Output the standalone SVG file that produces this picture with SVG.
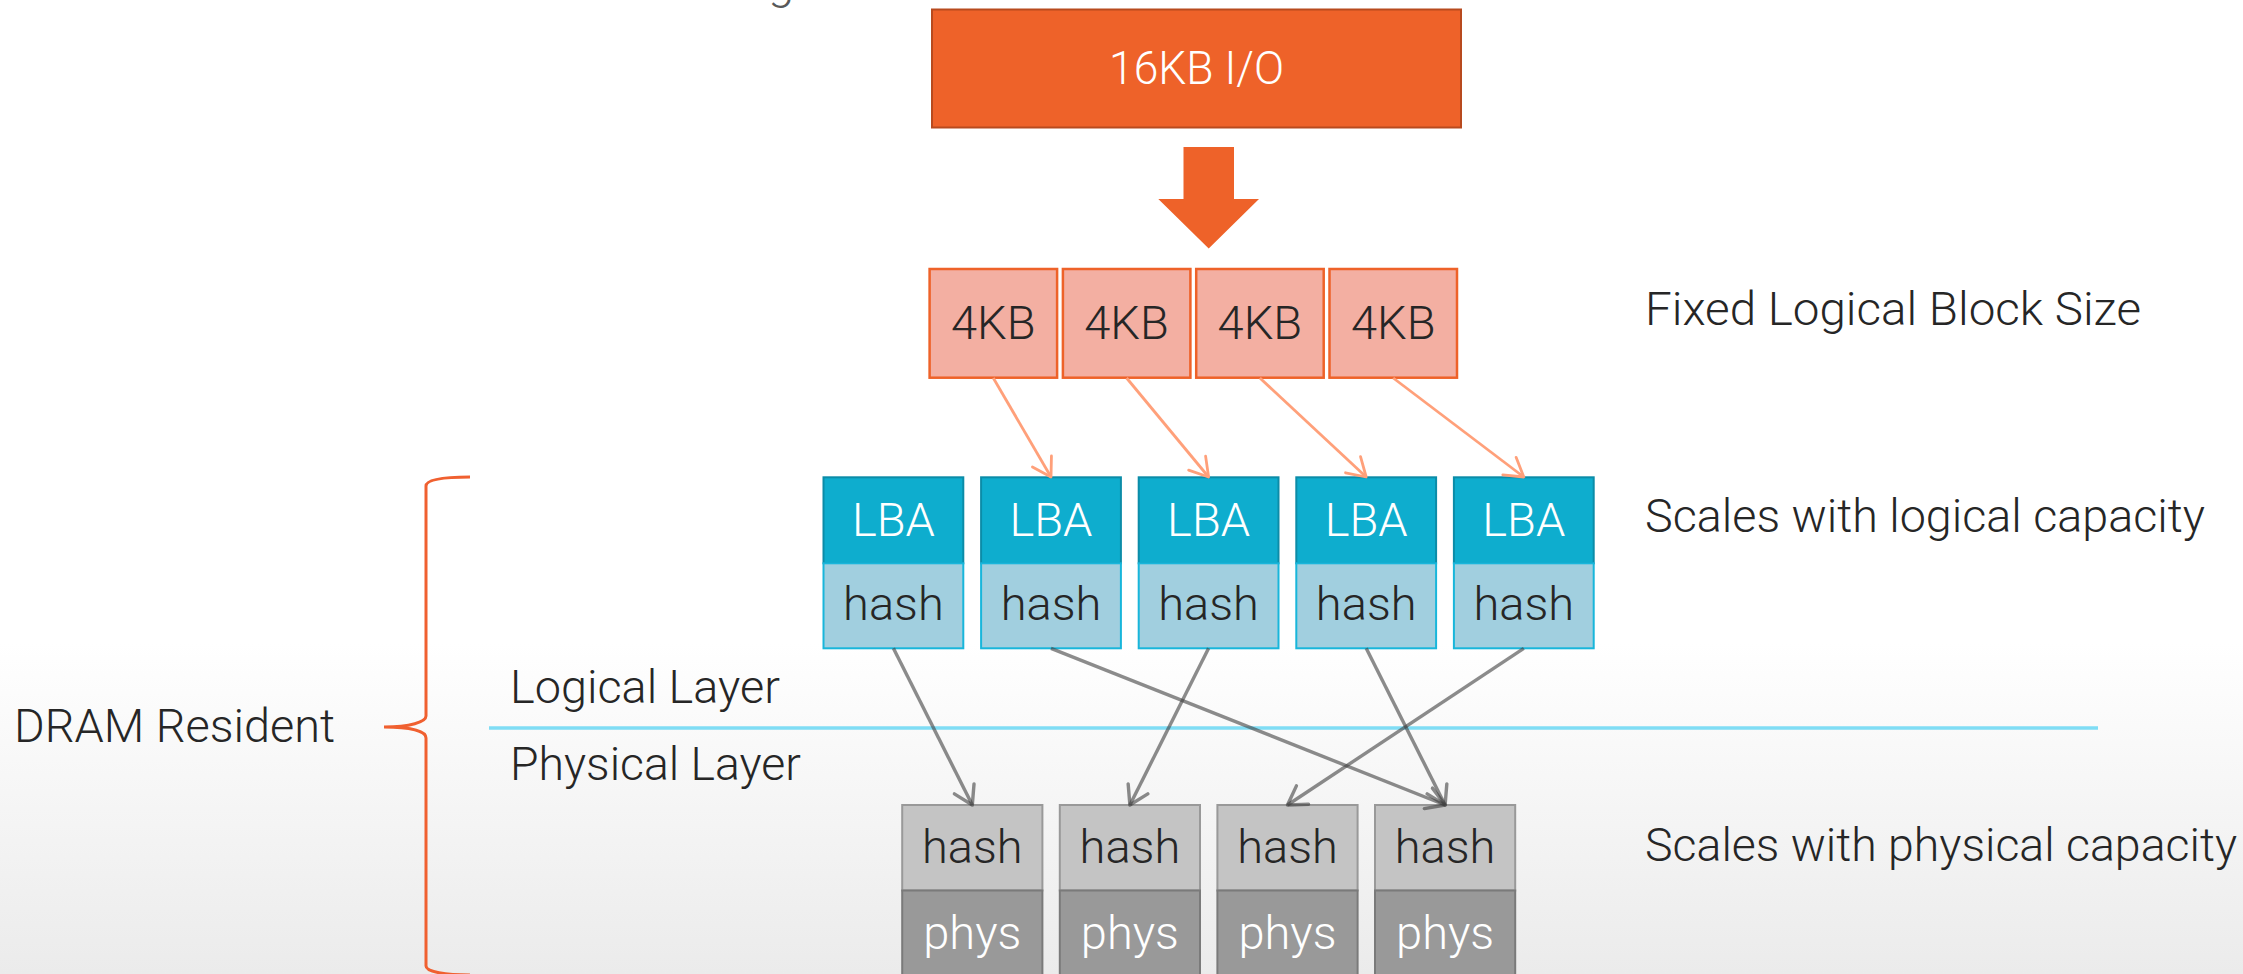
<svg xmlns="http://www.w3.org/2000/svg" width="2243" height="974" viewBox="0 0 2243 974">
  <defs>
    <linearGradient id="bg" x1="0" y1="0" x2="0" y2="974" gradientUnits="userSpaceOnUse">
      <stop offset="0" stop-color="#FFFFFF"/>
      <stop offset="0.66" stop-color="#FFFFFF"/>
      <stop offset="1" stop-color="#EBEBEB"/>
    </linearGradient>
    <marker id="headGray" markerUnits="userSpaceOnUse" viewBox="0 0 22 26" refX="20" refY="13" markerWidth="22" markerHeight="26" orient="auto">
      <path d="M2,2 L20,13 L2,24" fill="none" stroke="#404040" stroke-opacity="0.6" stroke-width="3.4" stroke-linecap="round" stroke-linejoin="round"/>
    </marker>
    <marker id="headSalmon" markerUnits="userSpaceOnUse" viewBox="0 0 22 26" refX="20" refY="13" markerWidth="22" markerHeight="26" orient="auto">
      <path d="M2,2 L20,13 L2,24" fill="none" stroke="#FFA07A" stroke-width="2.8" stroke-linecap="round" stroke-linejoin="round"/>
    </marker>
    <style>
      text { font-family: Roboto, "Open Sans", "Liberation Sans", sans-serif; font-weight: 300; font-size: 47px; }
      .dark { fill: #262626; }
      .light { fill: #FFFFFF; }
      .mid { text-anchor: middle; }
      .io { fill: #EE6229; stroke: #B84A1E; stroke-width: 2; }
      .blk { fill: #F3AFA2; stroke: #EE6229; stroke-width: 2.5; }
      .lba { fill: #0EADCE; stroke: #0B8CA8; stroke-width: 2; }
      .lhash { fill: #A1CFDF; stroke: #18B6DB; stroke-width: 2; }
      .phash { fill: #C4C4C4; stroke: #999999; stroke-width: 2; }
      .phys { fill: #999999; stroke: #7A7A7A; stroke-width: 2; }
      .map { fill: none; stroke: #404040; stroke-opacity: 0.6; stroke-width: 3.4; marker-end: url(#headGray); }
      .split { fill: none; stroke: #FFA07A; stroke-width: 2.8; marker-end: url(#headSalmon); }
    </style>
  </defs>

  <rect x="0" y="0" width="2243" height="974" fill="url(#bg)"/>

  <!-- tail of the heading line above the frame -->
  <text x="768" y="-1" font-size="62" fill="#595959">g</text>

  <!-- incoming request -->
  <g id="io16k">
    <rect class="io" x="932" y="9.5" width="529" height="118"/>
    <text class="light mid" x="1196.5" y="84" textLength="175" lengthAdjust="spacingAndGlyphs">16KB I/O</text>
  </g>
  <g id="splitArrow">
    <polygon points="1183.5,147 1234,147 1234,199 1259,199 1208.7,248.5 1158.3,199 1183.5,199" fill="#EE6229"/>
  </g>

  <!-- fixed-size logical blocks -->
  <g id="blk1"><rect class="blk" x="929.6" y="269" width="127.5" height="108.7"/><text class="dark mid" x="993.3" y="339">4KB</text></g>
  <g id="blk2"><rect class="blk" x="1062.9" y="269" width="127.5" height="108.7"/><text class="dark mid" x="1126.6" y="339">4KB</text></g>
  <g id="blk3"><rect class="blk" x="1196.2" y="269" width="127.5" height="108.7"/><text class="dark mid" x="1259.9" y="339">4KB</text></g>
  <g id="blk4"><rect class="blk" x="1329.5" y="269" width="127.5" height="108.7"/><text class="dark mid" x="1393.2" y="339">4KB</text></g>

  <!-- logical table: LBA -> hash -->
  <g id="lba1"><rect class="lba" x="823.5" y="477.3" width="139.8" height="86"/><rect class="lhash" x="823.5" y="563.3" width="139.8" height="85"/><text class="light mid" x="893.4" y="536">LBA</text><text class="dark mid" x="893.4" y="620">hash</text></g>
  <g id="lba2"><rect class="lba" x="981.1" y="477.3" width="139.8" height="86"/><rect class="lhash" x="981.1" y="563.3" width="139.8" height="85"/><text class="light mid" x="1051" y="536">LBA</text><text class="dark mid" x="1051" y="620">hash</text></g>
  <g id="lba3"><rect class="lba" x="1138.7" y="477.3" width="139.8" height="86"/><rect class="lhash" x="1138.7" y="563.3" width="139.8" height="85"/><text class="light mid" x="1208.6" y="536">LBA</text><text class="dark mid" x="1208.6" y="620">hash</text></g>
  <g id="lba4"><rect class="lba" x="1296.3" y="477.3" width="139.8" height="86"/><rect class="lhash" x="1296.3" y="563.3" width="139.8" height="85"/><text class="light mid" x="1366.2" y="536">LBA</text><text class="dark mid" x="1366.2" y="620">hash</text></g>
  <g id="lba5"><rect class="lba" x="1453.9" y="477.3" width="139.8" height="86"/><rect class="lhash" x="1453.9" y="563.3" width="139.8" height="85"/><text class="light mid" x="1523.8" y="536">LBA</text><text class="dark mid" x="1523.8" y="620">hash</text></g>

  <!-- physical table: hash -> phys -->
  <g id="phy1"><rect class="phash" x="902.2" y="805" width="140.2" height="85.5"/><rect class="phys" x="902.2" y="890.5" width="140.2" height="90"/><text class="dark mid" x="972.3" y="863">hash</text><text class="light mid" x="972.3" y="949">phys</text></g>
  <g id="phy2"><rect class="phash" x="1059.8" y="805" width="140.2" height="85.5"/><rect class="phys" x="1059.8" y="890.5" width="140.2" height="90"/><text class="dark mid" x="1129.9" y="863">hash</text><text class="light mid" x="1129.9" y="949">phys</text></g>
  <g id="phy3"><rect class="phash" x="1217.4" y="805" width="140.2" height="85.5"/><rect class="phys" x="1217.4" y="890.5" width="140.2" height="90"/><text class="dark mid" x="1287.5" y="863">hash</text><text class="light mid" x="1287.5" y="949">phys</text></g>
  <g id="phy4"><rect class="phash" x="1375" y="805" width="140.2" height="85.5"/><rect class="phys" x="1375" y="890.5" width="140.2" height="90"/><text class="dark mid" x="1445.1" y="863">hash</text><text class="light mid" x="1445.1" y="949">phys</text></g>

  <!-- layer boundary -->
  <g id="layers">
    <line x1="489" y1="728" x2="2098" y2="728" stroke="#7FDDF5" stroke-width="3.4"/>
    <text class="dark" x="510" y="703" textLength="270" lengthAdjust="spacingAndGlyphs">Logical Layer</text>
    <text class="dark" x="510" y="780" textLength="291" lengthAdjust="spacingAndGlyphs">Physical Layer</text>
  </g>

  <!-- DRAM brace -->
  <g id="dram">
    <path d="M470,477 C446,477 426,479 426,486 L426,716 C426,722 410,727 384,727 C410,727 426,731 426,738 L426,966 C426,972 446,975 470,975" fill="none" stroke="#F06030" stroke-width="3"/>
    <text class="dark" x="14" y="742" textLength="321" lengthAdjust="spacingAndGlyphs">DRAM Resident</text>
  </g>

  <!-- side notes -->
  <g id="notes">
    <text class="dark" x="1645" y="325" textLength="496" lengthAdjust="spacingAndGlyphs">Fixed Logical Block Size</text>
    <text class="dark" x="1645" y="532" textLength="560" lengthAdjust="spacingAndGlyphs">Scales with logical capacity</text>
    <text class="dark" x="1645" y="861" textLength="592" lengthAdjust="spacingAndGlyphs">Scales with physical capacity</text>
  </g>

  <!-- connectors -->
  <g id="connectors">
    <line class="split" x1="993.3" y1="378" x2="1051" y2="477"/>
    <line class="split" x1="1126.6" y1="378" x2="1208.6" y2="477"/>
    <line class="split" x1="1259.9" y1="378" x2="1366.2" y2="477"/>
    <line class="split" x1="1393.2" y1="378" x2="1523.8" y2="477"/>
    <line class="map" x1="893.4" y1="648.3" x2="972.3" y2="805"/>
    <line class="map" x1="1051" y1="648.3" x2="1445.1" y2="805"/>
    <line class="map" x1="1208.6" y1="648.3" x2="1129.9" y2="805"/>
    <line class="map" x1="1366.2" y1="648.3" x2="1445.1" y2="805"/>
    <line class="map" x1="1523.8" y1="648.3" x2="1287.5" y2="805"/>
  </g>
</svg>
